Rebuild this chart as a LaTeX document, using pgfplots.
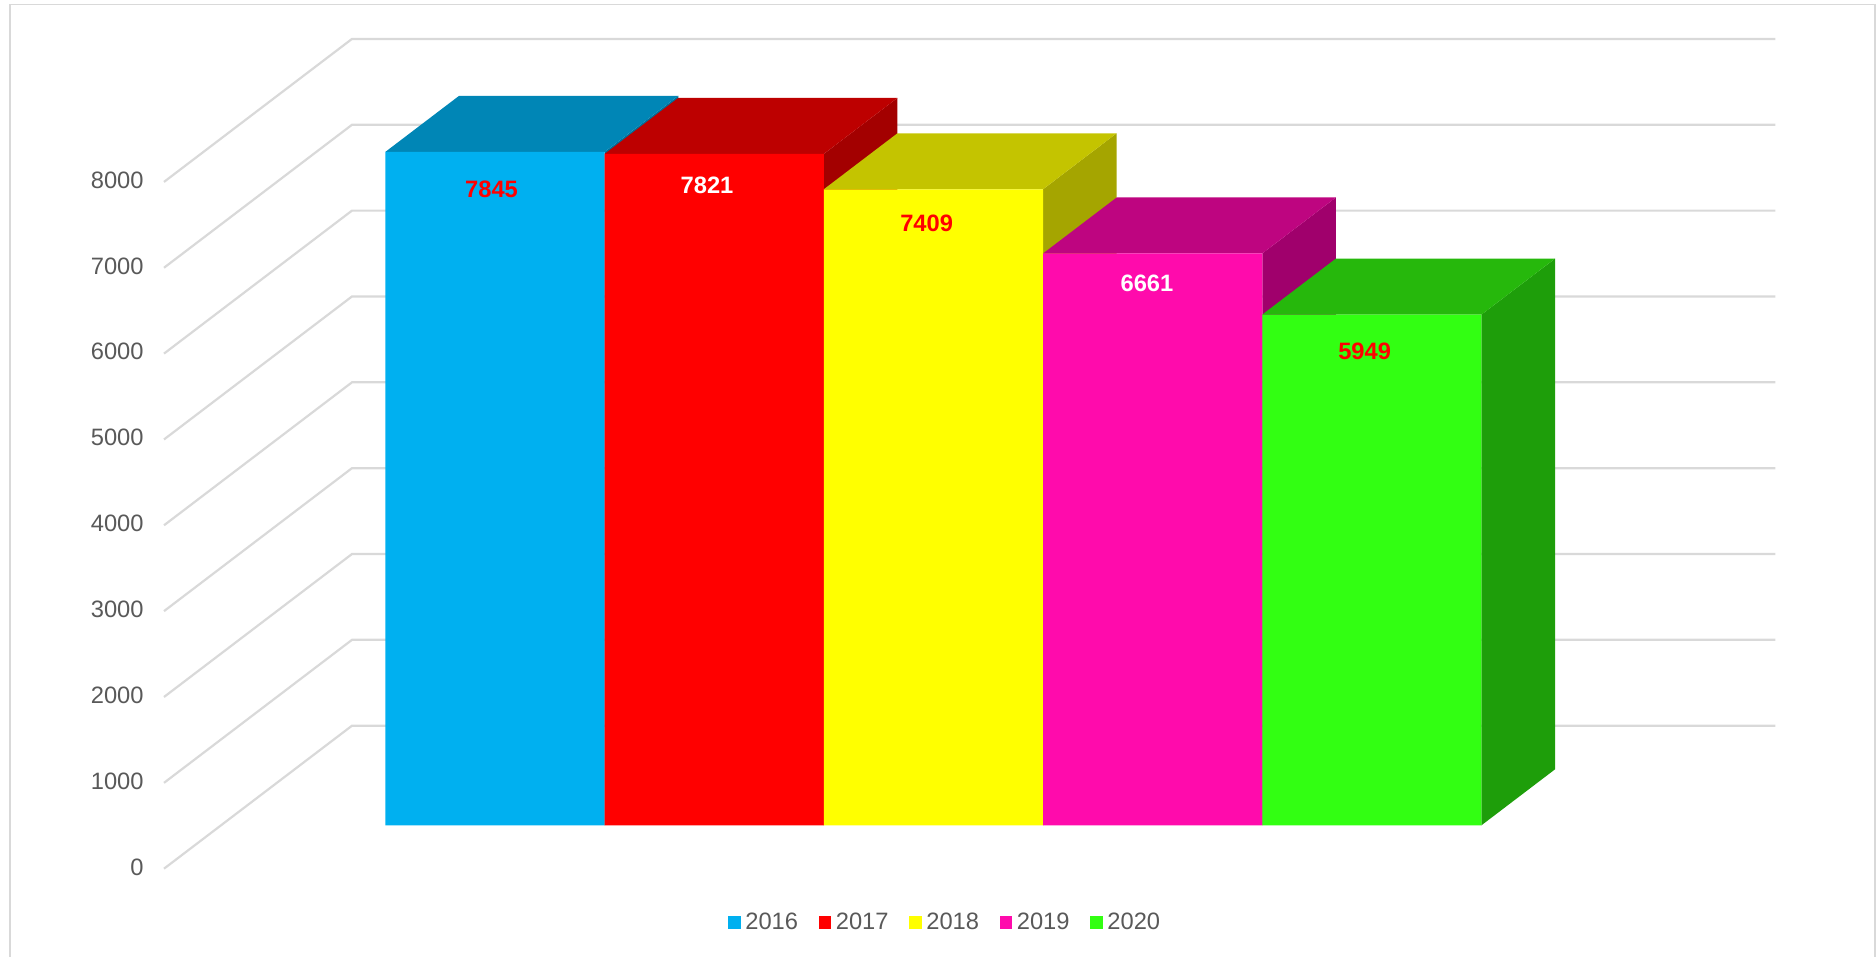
\documentclass[border=0pt]{standalone}
\usepackage{fontspec}
\setmainfont{Liberation Sans}
\usepackage{pgfplots}
\pgfplotsset{compat=1.18}

\definecolor{gridc}{HTML}{D9D9D9}
\definecolor{textc}{HTML}{595959}
\definecolor{fa}{HTML}{00B0F0}\definecolor{ta}{HTML}{0086B6}\definecolor{sa}{HTML}{00709A}
\definecolor{fb}{HTML}{FF0000}\definecolor{tb}{HTML}{BD0000}\definecolor{sb}{HTML}{A30000}
\definecolor{fc}{HTML}{FFFF00}\definecolor{tc}{HTML}{C4C400}\definecolor{sc}{HTML}{A5A500}
\definecolor{fd}{HTML}{FF0BAC}\definecolor{td}{HTML}{BE0580}\definecolor{sd}{HTML}{A0006C}
\definecolor{fe}{HTML}{32FF12}\definecolor{te}{HTML}{26B80C}\definecolor{se}{HTML}{1E9E0A}

% left edge, right edge, value, year, face letter
\newcommand{\drawbar}[5]{%
  \addplot3[fill=s#5,draw=none,forget plot] coordinates {(#2,0.3035,0)(#2,0.695,0)(#2,0.695,#3)(#2,0.3035,#3)(#2,0.3035,0)};
  \addplot3[fill=t#5,draw=none,forget plot] coordinates {(#1,0.3035,#3)(#2,0.3035,#3)(#2,0.695,#3)(#1,0.695,#3)(#1,0.3035,#3)};
  \addplot3[fill=f#5,draw=none] coordinates {(#1,0.3035,0)(#2,0.3035,0)(#2,0.3035,#3)(#1,0.3035,#3)(#1,0.3035,0)};
  \addlegendentry{#4}
}

\begin{document}
\begin{tikzpicture}
  \useasboundingbox (0,0) rectangle (938pt,478.5pt);
  \draw[gridc,line width=0.9pt] (5pt,-2pt) -- (5pt,476.2pt) -- (937.3pt,476.2pt) -- (937.3pt,-2pt);
  \begin{axis}[
    at={(219pt,44.15pt)},anchor=origin,
    disabledatascaling,
    x={(109.6pt,0pt)},y={(94pt,71.5pt)},z={(0pt,0.04293pt)},
    xmin=-1.25,xmax=5.243,ymin=0,ymax=1,zmin=0,zmax=8000,
    axis lines=left,
    axis line style={draw=none},
    xtick=\empty,ytick=\empty,
    ztick={0,1000,...,8000},
    major tick length=0pt,
    scaled ticks=false,
    clip=false,
    /pgf/number format/1000 sep={},
    /pgf/number format/assume math mode=true,
    tick label style={font=\fontsize{11.85}{14}\selectfont,text=textc},
    z tick label style={anchor=east,inner sep=0pt,xshift=-10pt,yshift=0.9pt},
    legend columns=5,
    legend cell align=left,
    legend style={
      at={(axis cs:2.309,0,-635)},anchor=center,
      draw=none,fill=none,
      font=\fontsize{11.85}{14}\selectfont,text=textc,
      nodes={inner xsep=0pt,inner ysep=1pt},
      /tikz/every odd column/.append style={column sep=2.35pt},
      /tikz/every even column/.append style={column sep=10.3pt},
    },
    legend image code/.code={\fill[#1] (0pt,-2.9pt) rectangle (6.25pt,3.5pt);},
  ]
    \pgfplotsinvokeforeach{0,1000,2000,3000,4000,5000,6000,7000,8000}{
      \addplot3[gridc,line width=1.1pt,forget plot] coordinates {(-1.25,0,#1)(-1.25,1,#1)(5.243,1,#1)};
    }
    \drawbar{-0.5}{0.5}{7845}{2016}{a}
    \drawbar{0.5}{1.5}{7821}{2017}{b}
    \drawbar{1.5}{2.5}{7409}{2018}{c}
    \drawbar{2.5}{3.5}{6661}{2019}{d}
    \drawbar{3.5}{4.5}{5949}{2020}{e}
    \tikzset{val/.style={font=\fontsize{11.85}{14}\selectfont\bfseries,inner sep=0pt}}
    \node[val,text=red]   at (axis cs:-0.016,0.3035,7410) {7845};
    \node[val,text=white] at (axis cs:0.967,0.3035,7453) {7821};
    \node[val,text=red]   at (axis cs:1.969,0.3035,7008) {7409};
    \node[val,text=white] at (axis cs:2.974,0.3035,6310) {6661};
    \node[val,text=red]   at (axis cs:3.967,0.3035,5520) {5949};
  \end{axis}
\end{tikzpicture}
\end{document}
